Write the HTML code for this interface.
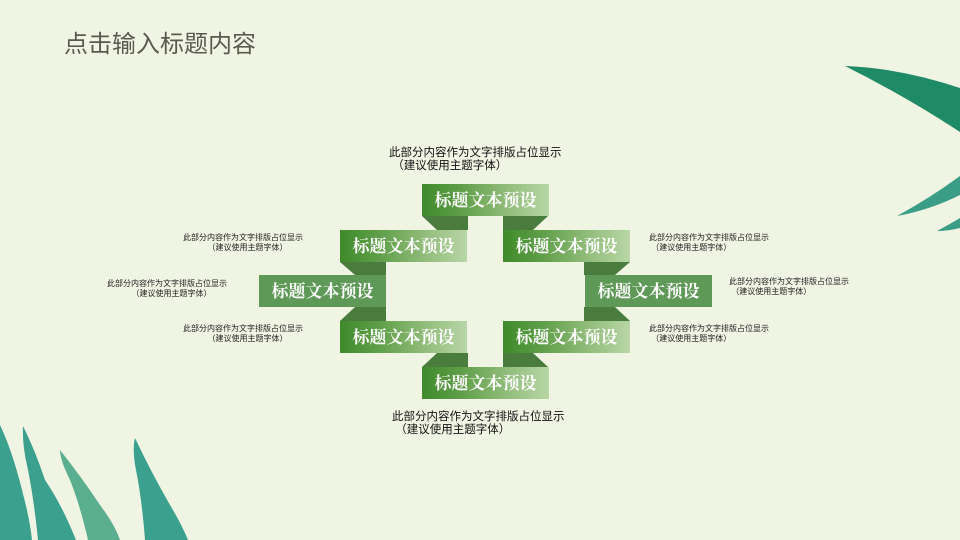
<!DOCTYPE html>
<html><head><meta charset="utf-8"><style>
body{margin:0}
#c{position:relative;width:960px;height:540px;background:#f0f4e2;overflow:hidden;font-family:"Liberation Sans","Noto Sans CJK SC",sans-serif}
.t{position:absolute;left:64px;top:24px;font-size:24px;color:#5a5b50;letter-spacing:0}
.b{position:absolute;width:127px;height:32px;color:#fff;font-family:"Liberation Serif","Noto Serif CJK SC",serif;font-weight:bold;font-size:17px;line-height:34px;text-align:center;background:linear-gradient(90deg,#3f8a2a 0%,#5e9e48 30%,#8fbb78 65%,#b8d6a6 100%)}
.s{background:#5f9957}
.n{position:absolute;font-size:8px;color:#222;line-height:10px;white-space:nowrap}
.m{position:absolute;font-size:11.5px;color:#111;line-height:13px;white-space:nowrap}
</style></head><body><div id="c">
<svg width="960" height="540" style="position:absolute;left:0;top:0">
<g fill="#1f8a66">
<path d="M845,66 Q900,68 960,88 L960,132 Q905,96 845,66Z"/>
<path d="M897,216 Q930,198 960,176 L960,195 Q930,210 897,216Z" fill="#3a9e86"/>
<path d="M937,231 Q950,224 960,218 L960,228 Q948,231 937,231Z" fill="#3a9e86"/>
</g>
<g fill="#3ba08e">
<path d="M0,425 Q12,450 22,490 Q30,520 32,540 L0,540Z"/>
<path d="M23,426 Q35,450 45,480 Q62,505 76,540 L38,540 Q34,500 28,470 Q22,445 23,426Z"/>
<path d="M60,450 Q80,475 100,505 Q115,525 120,540 L88,540 Q80,505 70,480 Q60,460 60,450Z" fill="#5cae90"/>
<path d="M135,438 Q150,470 170,505 Q182,525 188,540 L145,540 Q142,500 136,470 Q132,450 135,438Z"/>
</g>
<g fill="#4a7d3d">
<path d="M422,216 L468,216 L468,230 L437,230Z"/>
<path d="M548,216 L503,216 L503,230 L533,230Z"/>
<path d="M340,262 L386,262 L386,275 L355,275Z"/>
<path d="M630,262 L584,262 L584,275 L615,275Z"/>
<path d="M340,321 L386,321 L386,307 L355,307Z"/>
<path d="M630,321 L584,321 L584,307 L615,307Z"/>
<path d="M422,367 L468,367 L468,353 L437,353Z"/>
<path d="M548,367 L503,367 L503,353 L533,353Z"/>
</g>
</svg>
<div class="t">点击输入标题内容</div>
<div class="b" style="left:422px;top:184px">标题文本预设</div>
<div class="b" style="left:340px;top:230px">标题文本预设</div>
<div class="b" style="left:503px;top:230px">标题文本预设</div>
<div class="b s" style="left:259px;top:275px">标题文本预设</div>
<div class="b s" style="left:585px;top:275px">标题文本预设</div>
<div class="b" style="left:340px;top:321px">标题文本预设</div>
<div class="b" style="left:503px;top:321px">标题文本预设</div>
<div class="b" style="left:422px;top:367px">标题文本预设</div>
<div class="m" style="left:389px;top:147px">此部分内容作为文字排版占位显示<br>&nbsp;（建议使用主题字体）</div>
<div class="m" style="left:392px;top:411px">此部分内容作为文字排版占位显示<br>&nbsp;（建议使用主题字体）</div>
<div class="n" style="left:183px;top:233px">此部分内容作为文字排版占位显示<br>&nbsp;&nbsp;&nbsp;&nbsp;&nbsp;&nbsp;&nbsp;&nbsp;&nbsp;&nbsp;&nbsp;（建议使用主题字体）</div>
<div class="n" style="left:107px;top:279px">此部分内容作为文字排版占位显示<br>&nbsp;&nbsp;&nbsp;&nbsp;&nbsp;&nbsp;&nbsp;&nbsp;&nbsp;&nbsp;&nbsp;（建议使用主题字体）</div>
<div class="n" style="left:183px;top:324px">此部分内容作为文字排版占位显示<br>&nbsp;&nbsp;&nbsp;&nbsp;&nbsp;&nbsp;&nbsp;&nbsp;&nbsp;&nbsp;&nbsp;（建议使用主题字体）</div>
<div class="n" style="left:649px;top:233px">此部分内容作为文字排版占位显示<br>&nbsp;（建议使用主题字体）</div>
<div class="n" style="left:729px;top:277px">此部分内容作为文字排版占位显示<br>&nbsp;（建议使用主题字体）</div>
<div class="n" style="left:649px;top:324px">此部分内容作为文字排版占位显示<br>&nbsp;（建议使用主题字体）</div>
</div></body></html>
